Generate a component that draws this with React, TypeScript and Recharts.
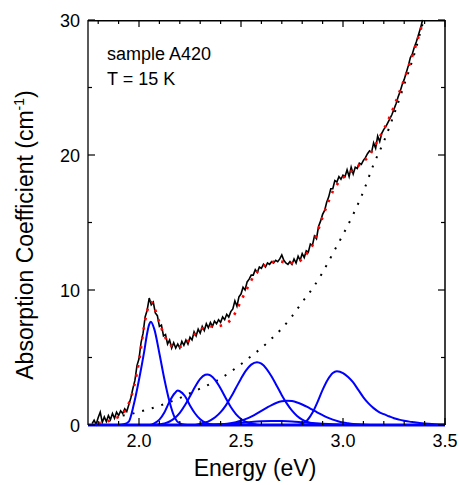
import { LineChart, Line, XAxis, YAxis, Customized } from "recharts";

type Pt = [number, number];

// axis ticks (energy in eV, absorption in cm-1)
const energyTicks = [1.8, 1.9, 2.0, 2.1, 2.2, 2.3, 2.4, 2.5, 2.6, 2.7, 2.8, 2.9, 3.0, 3.1, 3.2, 3.3, 3.4, 3.5];
const energyLabels = [2.0, 2.5, 3.0, 3.5];
const alphaTicks = [0, 5, 10, 15, 20, 25, 30];
const alphaLabels = [0, 10, 20, 30];

// measured spectrum
const measured: Pt[] = [
  [1.77, 0.1], [1.78, 0.35], [1.79, 0.05], [1.8, 0.55], [1.81, 0.95], [1.82, 0.2], [1.83, 0.6], [1.84, 0.25],
  [1.85, 0.7], [1.86, 0.4], [1.87, 0.85], [1.88, 0.5], [1.89, 0.95], [1.9, 0.7], [1.91, 1.05], [1.92, 0.85],
  [1.93, 1.2], [1.94, 1.0], [1.95, 1.5], [1.96, 2.0], [1.97, 2.7], [1.98, 3.3], [1.99, 4.4], [2.0, 4.9],
  [2.01, 6.1], [2.02, 6.8], [2.03, 8.0], [2.04, 8.5], [2.05, 9.4], [2.06, 8.9], [2.07, 9.1], [2.08, 8.3],
  [2.09, 8.1], [2.1, 7.3], [2.11, 7.4], [2.12, 6.6], [2.13, 6.7], [2.14, 6.0], [2.15, 6.3], [2.16, 5.7],
  [2.17, 6.1], [2.18, 5.7], [2.19, 6.0], [2.2, 5.7], [2.21, 6.2], [2.22, 5.9], [2.23, 6.3], [2.24, 6.0],
  [2.25, 6.5], [2.26, 6.3], [2.27, 6.9], [2.28, 6.6], [2.29, 7.1], [2.3, 6.8], [2.31, 7.3], [2.32, 7.0],
  [2.33, 7.5], [2.34, 7.2], [2.35, 7.6], [2.36, 7.3], [2.37, 7.7], [2.38, 7.5], [2.39, 7.8], [2.4, 7.6],
  [2.41, 8.0], [2.42, 7.8], [2.43, 8.2], [2.44, 8.0], [2.45, 8.4], [2.46, 8.6], [2.47, 9.2], [2.48, 8.8],
  [2.49, 9.5], [2.5, 9.7], [2.51, 10.2], [2.52, 10.0], [2.53, 10.6], [2.54, 10.8], [2.55, 11.1], [2.56, 11.1],
  [2.57, 11.5], [2.58, 11.3], [2.59, 11.7], [2.6, 11.6], [2.61, 11.9], [2.62, 11.7], [2.63, 12.0], [2.64, 11.9],
  [2.65, 12.1], [2.66, 12.0], [2.67, 12.2], [2.68, 12.1], [2.69, 12.3], [2.7, 12.6], [2.71, 12.2], [2.72, 12.0],
  [2.73, 11.9], [2.74, 12.1], [2.75, 11.9], [2.76, 12.3], [2.77, 12.0], [2.78, 12.5], [2.79, 12.2], [2.8, 12.7],
  [2.81, 12.4], [2.82, 12.9], [2.83, 12.8], [2.84, 13.4], [2.85, 13.3], [2.86, 14.0], [2.87, 13.8], [2.88, 14.7],
  [2.89, 15.1], [2.9, 15.6], [2.91, 15.9], [2.92, 16.5], [2.93, 16.9], [2.94, 17.5], [2.95, 17.5], [2.96, 18.1],
  [2.97, 18.0], [2.98, 18.4], [2.99, 18.2], [3.0, 18.5], [3.01, 18.4], [3.02, 18.9], [3.03, 18.4], [3.04, 19.1],
  [3.05, 18.6], [3.06, 19.1], [3.07, 19.0], [3.08, 19.4], [3.09, 19.3], [3.1, 19.6], [3.11, 19.8], [3.12, 20.1],
  [3.13, 20.3], [3.14, 20.2], [3.15, 20.9], [3.16, 20.5], [3.17, 21.4], [3.18, 21.0], [3.19, 21.6], [3.2, 21.9],
  [3.21, 22.1], [3.22, 22.4], [3.23, 22.7], [3.24, 23.0], [3.25, 23.4], [3.26, 23.8], [3.27, 24.3], [3.28, 24.7],
  [3.29, 25.2], [3.3, 25.6], [3.31, 26.1], [3.32, 26.6], [3.33, 27.2], [3.34, 27.5], [3.35, 28.0], [3.36, 28.4],
  [3.37, 28.9], [3.38, 29.4], [3.39, 30.0],
];

// total fit (red dots)
const fit: Pt[] = [
  [1.8, 0.15], [1.825, 0.2], [1.85, 0.3], [1.875, 0.45], [1.9, 0.6], [1.925, 0.9], [1.95, 1.6], [1.975, 2.8],
  [2.0, 4.7], [2.025, 7.3], [2.05, 8.9], [2.06, 9.1], [2.075, 8.7], [2.1, 7.6], [2.125, 6.6], [2.15, 6.0],
  [2.175, 5.8], [2.2, 5.8], [2.225, 6.0], [2.25, 6.35], [2.275, 6.75], [2.3, 7.05], [2.325, 7.25], [2.35, 7.3],
  [2.375, 7.3], [2.4, 7.35], [2.425, 7.5], [2.45, 7.8], [2.475, 8.4], [2.5, 9.2], [2.525, 9.95], [2.55, 10.7],
  [2.575, 11.25], [2.6, 11.65], [2.625, 11.9], [2.65, 12.05], [2.675, 12.15], [2.7, 12.1], [2.725, 12.0], [2.75, 12.0],
  [2.775, 12.05], [2.8, 12.3], [2.825, 12.75], [2.85, 13.3], [2.875, 14.3], [2.9, 15.4], [2.925, 16.4], [2.95, 17.3],
  [2.975, 17.9], [3.0, 18.3], [3.025, 18.6], [3.05, 18.9], [3.075, 19.2], [3.1, 19.5], [3.125, 19.9], [3.15, 20.5],
  [3.175, 21.2], [3.2, 21.9], [3.225, 22.7], [3.25, 23.6], [3.275, 24.6], [3.3, 25.6], [3.325, 26.7], [3.35, 27.8],
  [3.375, 29.0], [3.395, 30.0],
];

// background absorption (black dots)
const background: Pt[] = [
  [1.92, 0.7], [1.95, 0.78], [2.0, 0.97], [2.05, 1.18], [2.1, 1.42], [2.15, 1.7], [2.2, 2.0], [2.25, 2.35],
  [2.3, 2.7], [2.35, 3.05], [2.4, 3.45], [2.45, 3.95], [2.5, 4.5], [2.55, 5.1], [2.6, 5.7], [2.65, 6.4],
  [2.7, 7.15], [2.75, 8.05], [2.8, 9.1], [2.85, 10.1], [2.9, 11.3], [2.95, 12.7], [3.0, 14.1], [3.05, 15.6],
  [3.1, 17.3], [3.15, 19.3], [3.2, 21.0], [3.25, 23.0], [3.3, 25.2], [3.35, 27.5], [3.395, 30.0],
];

// fitted bands (blue)
const band1: Pt[] = [
  [1.75, 0], [1.9, 0], [1.925, 0.05], [1.95, 0.25], [1.975, 1.55], [2.0, 3.35], [2.025, 5.4], [2.04, 6.8],
  [2.05, 7.45], [2.058, 7.65], [2.075, 7.1], [2.1, 5.3], [2.125, 3.35], [2.15, 1.7], [2.175, 0.55], [2.2, 0.12],
  [2.225, 0.02], [2.25, 0], [3.5, 0],
];
const band2: Pt[] = [
  [1.75, 0], [2.05, 0], [2.075, 0.12], [2.1, 0.4], [2.125, 0.95], [2.15, 1.75], [2.175, 2.35], [2.19, 2.55],
  [2.2, 2.5], [2.225, 2.15], [2.25, 1.45], [2.275, 0.85], [2.3, 0.42], [2.325, 0.17], [2.35, 0.05], [2.375, 0],
  [3.5, 0],
];
const band3: Pt[] = [
  [1.75, 0], [2.075, 0], [2.1, 0.05], [2.125, 0.12], [2.15, 0.26], [2.175, 0.51], [2.2, 0.9], [2.225, 1.46],
  [2.25, 2.13], [2.275, 2.83], [2.3, 3.41], [2.325, 3.72], [2.335, 3.75], [2.35, 3.68], [2.375, 3.31], [2.4, 2.7],
  [2.425, 2.0], [2.45, 1.33], [2.475, 0.81], [2.5, 0.45], [2.525, 0.22], [2.55, 0.1], [2.575, 0.04], [2.6, 0],
  [3.5, 0],
];
const band4: Pt[] = [
  [1.75, 0], [2.275, 0], [2.3, 0.1], [2.325, 0.19], [2.35, 0.35], [2.375, 0.59], [2.4, 0.95], [2.425, 1.44],
  [2.45, 2.05], [2.475, 2.74], [2.5, 3.43], [2.525, 4.04], [2.55, 4.47], [2.578, 4.65], [2.6, 4.54], [2.625, 4.16],
  [2.65, 3.59], [2.675, 2.91], [2.7, 2.21], [2.725, 1.58], [2.75, 1.06], [2.775, 0.67], [2.8, 0.4], [2.825, 0.22],
  [2.85, 0.11], [2.875, 0.05], [2.9, 0.02], [2.925, 0], [3.5, 0],
];
const band5: Pt[] = [
  [1.75, 0], [2.3, 0], [2.35, 0.01], [2.4, 0.05], [2.45, 0.13], [2.475, 0.21], [2.5, 0.31], [2.525, 0.45],
  [2.55, 0.62], [2.575, 0.82], [2.6, 1.05], [2.625, 1.27], [2.65, 1.48], [2.675, 1.65], [2.7, 1.76], [2.725, 1.8],
  [2.75, 1.77], [2.775, 1.67], [2.8, 1.52], [2.825, 1.34], [2.85, 1.13], [2.875, 0.92], [2.9, 0.73], [2.925, 0.55],
  [2.95, 0.4], [2.975, 0.28], [3.0, 0.19], [3.025, 0.13], [3.05, 0.08], [3.1, 0.03], [3.15, 0], [3.5, 0],
];
const band6: Pt[] = [
  [1.75, 0], [2.775, 0], [2.8, 0.1], [2.825, 0.35], [2.85, 0.9], [2.875, 1.7], [2.9, 2.6], [2.925, 3.35],
  [2.95, 3.85], [2.97, 3.98], [3.0, 3.85], [3.025, 3.55], [3.05, 3.15], [3.075, 2.6], [3.1, 2.05], [3.125, 1.6],
  [3.15, 1.25], [3.175, 0.98], [3.2, 0.8], [3.225, 0.65], [3.25, 0.5], [3.275, 0.4], [3.3, 0.32], [3.325, 0.25],
  [3.35, 0.2], [3.375, 0.15], [3.4, 0.11], [3.45, 0.06], [3.5, 0.03],
];
const band7: Pt[] = [
  [1.75, 0], [2.3, 0], [2.35, 0.02], [2.4, 0.05], [2.45, 0.1], [2.5, 0.16], [2.55, 0.23], [2.6, 0.28],
  [2.65, 0.3], [2.7, 0.29], [2.75, 0.26], [2.8, 0.2], [2.85, 0.14], [2.9, 0.09], [2.95, 0.05], [3.0, 0.03],
  [3.05, 0.01], [3.1, 0], [3.5, 0],
];

const toRows = (pts: Pt[]) => pts.map(([e, a]) => ({ e, a }));
const bands = [band1, band2, band3, band4, band5, band6, band7].map(toRows);

const X_MIN = 1.75;
const X_MAX = 3.5;
const Y_MAX = 30;

// plot box in pixels (follows from chart size, margins and axis sizes below)
const PLOT = { left: 88, top: 20, right: 445, bottom: 425 };
const px = (e: number) => PLOT.left + ((e - X_MIN) / (X_MAX - X_MIN)) * (PLOT.right - PLOT.left);
const py = (a: number) => PLOT.bottom - (a / Y_MAX) * (PLOT.bottom - PLOT.top);

const FONT = "'Liberation Sans', Arial, sans-serif";
const isMajor = (list: number[], v: number) => list.some((m) => Math.abs(m - v) < 1e-6);

function BottomTick({ x, y, payload }: any) {
  const major = isMajor(energyLabels, payload.value);
  return (
    <g>
      <line x1={x} y1={y} x2={x} y2={y - (major ? 7 : 4)} stroke="#000" strokeWidth={1.2} />
      {major && (
        <text x={x} y={y + 22} textAnchor="middle" fontSize={18} fill="#000" fontFamily={FONT}>
          {payload.value.toFixed(1)}
        </text>
      )}
    </g>
  );
}

function LeftTick({ x, y, payload }: any) {
  const major = isMajor(alphaLabels, payload.value);
  return (
    <g>
      <line x1={x} y1={y} x2={x + (major ? 7 : 4)} y2={y} stroke="#000" strokeWidth={1.2} />
      {major && (
        <text x={x - 8} y={y + 6.5} textAnchor="end" fontSize={18} fill="#000" fontFamily={FONT}>
          {payload.value}
        </text>
      )}
    </g>
  );
}

function Captions() {
  return (
    <g fontFamily={FONT} fill="#000">
      <text x={107} y={60} fontSize={18}>sample A420</text>
      <text x={107} y={85} fontSize={18}>T = 15 K</text>
      <text x={255} y={476} fontSize={23} textAnchor="middle">Energy (eV)</text>
      <text x={33} y={235} fontSize={23} textAnchor="middle" transform="rotate(-90 33 235)">
        Absorption Coefficient (cm<tspan dy={-9} fontSize={14}>-1</tspan>
        <tspan dy={9}>)</tspan>
      </text>
    </g>
  );
}

// top/right frame with inward ticks, laid over the chart
function Frame() {
  return (
    <svg
      width={460}
      height={485}
      style={{ position: "absolute", left: 0, top: 0, pointerEvents: "none" }}
    >
      <rect x={PLOT.left} y={PLOT.top} width={PLOT.right - PLOT.left} height={1.5} fill="#000" />
      <rect x={PLOT.right - 0.75} y={PLOT.top} width={1.5} height={PLOT.bottom - PLOT.top} fill="#000" />
      {energyTicks.map((v) => (
        <rect
          key={"t" + v}
          x={px(v) - 0.6}
          y={PLOT.top}
          width={1.2}
          height={isMajor(energyLabels, v) ? 7 : 4}
          fill="#000"
        />
      ))}
      {alphaTicks.map((v) => (
        <rect
          key={"r" + v}
          x={PLOT.right - (isMajor(alphaLabels, v) ? 7 : 4)}
          y={py(v) - 0.6}
          width={isMajor(alphaLabels, v) ? 7 : 4}
          height={1.2}
          fill="#000"
        />
      ))}
    </svg>
  );
}

export default function App() {
  return (
    <div style={{ position: "absolute", left: 0, top: 0, width: 460, height: 485, background: "#fff" }}>
      <LineChart width={460} height={485} margin={{ top: 20, right: 15, bottom: 0, left: 0 }}>
        <XAxis
          dataKey="e"
          type="number"
          domain={[X_MIN, X_MAX]}
          ticks={energyTicks}
          interval={0}
          tickSize={0}
          tickMargin={0}
          tickLine={false}
          tick={<BottomTick />}
          height={60}
          axisLine={{ stroke: "#0000ff", strokeWidth: 3 }}
        />
        <YAxis
          type="number"
          domain={[0, Y_MAX]}
          ticks={alphaTicks}
          interval={0}
          tickSize={0}
          tickMargin={0}
          tickLine={false}
          tick={<LeftTick />}
          width={88}
          axisLine={{ stroke: "#000", strokeWidth: 1.3 }}
        />
        <Line
          data={toRows(background)}
          dataKey="a"
          type="monotone"
          stroke="#000"
          strokeWidth={2}
          strokeDasharray="2 8"
          dot={false}
          isAnimationActive={false}
        />
        {bands.map((rows, i) => (
          <Line
            key={i}
            data={rows}
            dataKey="a"
            type="monotone"
            stroke="#0000ff"
            strokeWidth={2}
            dot={false}
            isAnimationActive={false}
          />
        ))}
        <Line
          data={toRows(measured)}
          dataKey="a"
          type="linear"
          stroke="#000"
          strokeWidth={1.6}
          dot={false}
          isAnimationActive={false}
        />
        <Line
          data={toRows(fit)}
          dataKey="a"
          type="monotone"
          stroke="#ff0000"
          strokeWidth={2.6}
          strokeDasharray="2.5 7"
          dot={false}
          isAnimationActive={false}
        />
        <Customized component={<Captions />} />
      </LineChart>
      <Frame />
    </div>
  );
}
